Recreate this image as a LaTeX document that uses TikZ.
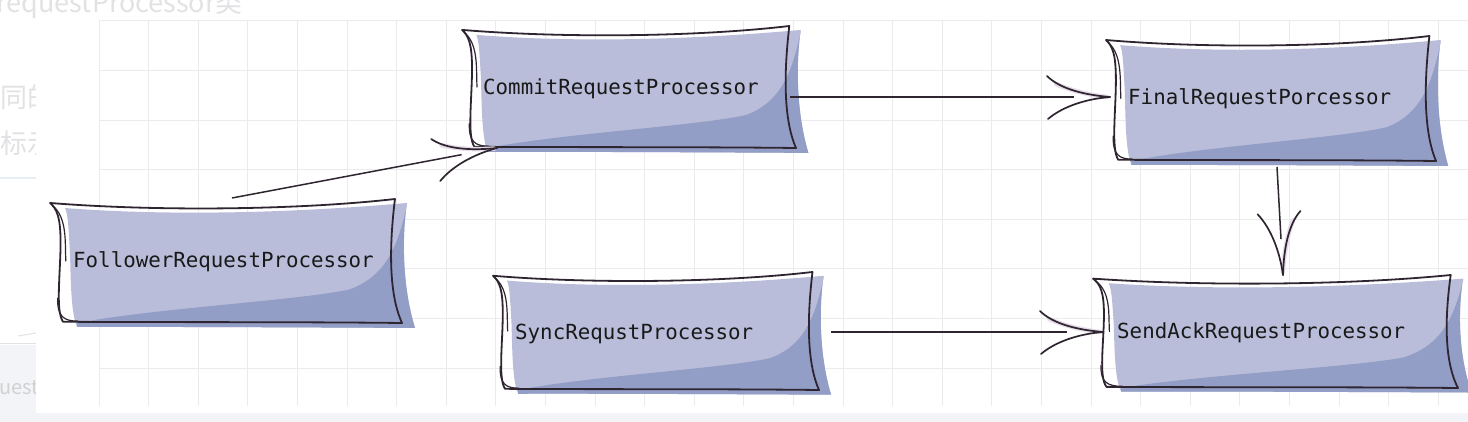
\documentclass[tikz,border=0pt]{standalone}
\usepackage{fontspec}
\newfontfamily\monof{DejaVu Sans Mono}
\newfontfamily\cjkf{Noto Sans CJK SC}
\usetikzlibrary{calc}
\definecolor{lightfill}{HTML}{B9BDD9}
\definecolor{darkfill}{HTML}{939EC7}
\definecolor{ink}{HTML}{2F2530}
\definecolor{gridc}{HTML}{EBEBEB}
\definecolor{lav}{HTML}{E6DCEA}
\definecolor{faded}{HTML}{E2E2E5}
\definecolor{band}{HTML}{F3F4F8}
\definecolor{paleblue}{HTML}{E3EEF7}
\tikzset{
  boxn/.style={rectangle, inner sep=0pt, outer sep=0pt},
  lbl/.style={inner sep=0pt, text=black!90, font=\monof\fontsize{20.8}{24}\selectfont},
  conn/.style={draw=ink, line width=1.5pt, shorten >=36pt},
  outl/.style={draw=ink, line width=1.8pt, line join=round, line cap=round},
  head/.pic={
    \draw[lav, line width=4.5pt, line cap=round, shorten >=0pt] (-54,-13) .. controls (-38,-6) and (-20,-2) .. (-3,0);
    \draw[ink, line width=1.7pt, line cap=round, shorten >=0pt] (-63,-21) .. controls (-50,-8) and (-25,-2) .. (0,0);
    \draw[ink, line width=1.7pt, line cap=round, shorten >=0pt] (-62,22) .. controls (-48,10) and (-25,2) .. (0,0);
  }
}
\newcommand\procbox[8]{%
  \begin{scope}[shift={(#2,#3)}, x=#4pt, y=-#5pt]
    \fill[lightfill] (0.043,0.073) .. controls (0.35,0.14) and (0.7,0.11) .. (1.014,0.032)
      .. controls (1.0,0.3) and (1.0,0.7) .. (1.037,1.04)
      .. controls (0.7,1.035) and (0.3,1.03) .. (0.077,1.032)
      .. controls (0.055,0.9) and (0.06,0.5) .. (0.055,0.35)
      .. controls (0.052,0.2) and (0.05,0.12) .. cycle;
    \fill[darkfill] (1.014,0.05) .. controls (0.99,0.35) and (0.96,0.62) .. (0.85,0.73)
      .. controls (0.7,0.82) and (0.3,0.88) .. (0.077,1.0) -- (0.077,1.032)
      .. controls (0.3,1.03) and (0.7,1.035) .. (1.037,1.04)
      .. controls (1.0,0.7) and (1.0,0.3) .. (1.014,0.032) -- cycle;
    \draw[outl] (0,0.032) .. controls (0.3,0.1) and (0.7,0.09) .. (0.98,0)
      .. controls (0.965,0.35) and (0.96,0.75) .. (1,1)
      .. controls (0.7,0.99) and (0.3,0.995) .. (0.037,0.99)
      .. controls (0.015,0.9) and (0.03,0.6) .. (0.03,0.35)
      .. controls (0.03,0.15) and (0.02,0.08) .. (0,0.032);
    \draw[outl, line width=1.2pt] (0.006,0.05) .. controls (0.05,0.15) and (0.042,0.35) .. (0.045,0.5);
    \draw[outl, line width=1.2pt] (0.022,0.8) .. controls (0.02,0.95) and (0.04,0.985) .. (0.08,0.985);
  \end{scope}
  \node[boxn, minimum width=#4pt, minimum height=#5pt] (#1) at ({#2+#4/2},{#3+#5/2}) {};
  \node[lbl, anchor=base west] (#1-t) at (#6,#7) {#8};
}
\begin{document}
\begin{tikzpicture}[x=1pt,y=-1pt]
\useasboundingbox (0,0) rectangle (1468,422);
\fill[white] (0,0) rectangle (1468,422);
% page background outside the card
\fill[band] (0,345) rectangle (36,422);
\fill[band] (0,413) rectangle (1468,422);
\draw[faded, line width=1pt] (0,343) -- (36,343);
\draw[faded, line width=1pt] (18,336) -- (36,333);
\draw[paleblue, line width=1.5pt] (0,178) -- (36,178);
\begin{scope}
  \clip (0,0) rectangle (36,422);
  \node[anchor=west, inner sep=0pt, text=faded, font=\cjkf\fontsize{27}{30}\selectfont] (t2) at (0,97) {同的};
  \node[anchor=west, inner sep=0pt, text=faded, font=\cjkf\fontsize{27}{30}\selectfont] (t3) at (0,143) {标示};
  \node[anchor=base west, inner sep=0pt, text=black!18, font=\cjkf\fontsize{20}{24}\selectfont] (t4) at (-1,394) {uest};
\end{scope}
\node[anchor=base east, inner sep=0pt, text=faded, font=\cjkf\fontsize{27}{30}\selectfont] (t1) at (243,13) {requestProcessor类};
% card
\fill[white, rounded corners=6pt] (36,14) rectangle (1490,413);
% grid
\foreach \i in {0,...,27} \draw[gridc, line width=1pt] ({99+49.6*\i},20) -- ({99+49.6*\i},406);
\foreach \j in {0,...,7} \draw[gridc, line width=1pt] (99,{21+49.6*\j}) -- (1468,{21+49.6*\j});
% boxes
\procbox{follower}{50}{199}{352}{124}{73}{268}{FollowerRequestProcessor}
\procbox{commit}{462}{26}{334}{122}{483}{95}{CommitRequestProcessor}
\procbox{final}{1106}{36}{330}{125}{1128}{105}{FinalRequestPorcessor}
\procbox{sendack}{1093}{275}{365}{113}{1117}{338}{SendAckRequestProcessor}
\procbox{sync}{493}{272}{326}{118}{515}{339}{SyncRequstProcessor}
% connectors
\draw[conn] ($(follower.north)+(6,-1)$) -- ($(commit.south west)+(35,0)$) pic[pos=1, sloped, allow upside down]{head};
\draw[conn] ($(commit.east)+(-6,10)$) -- ($(final.west)+(4,-1.5)$) pic[pos=1, sloped, allow upside down]{head};
\draw[conn] ($(final.south)+(6,6)$) -- ($(sendack.north)+(7.5,0)$) pic[pos=1, sloped, allow upside down]{head};
\draw[conn] ($(sync.east)+(12,1)$) -- ($(sendack.west)+(10,0.5)$) pic[pos=1, sloped, allow upside down]{head};
\end{tikzpicture}
\end{document}
